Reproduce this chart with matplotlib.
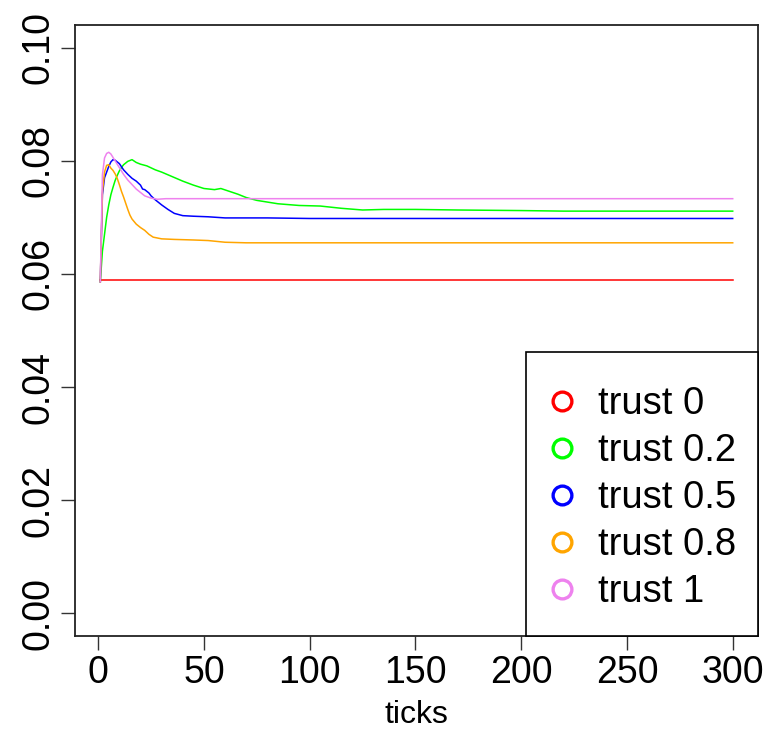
import matplotlib
matplotlib.use("Agg")
import matplotlib.pyplot as plt
from matplotlib.patches import Rectangle

plt.rcParams['font.family'] = ['Liberation Sans', 'DejaVu Sans']

# ---- data ----
red_t = [1, 300]
red_v = [0.0589, 0.0589]

green_t = [1, 2, 3, 4, 5, 6, 7, 8, 9, 10, 11, 12, 14, 16, 18, 20, 23, 27, 30, 35, 40, 45,
           50, 55, 58, 62, 66, 70, 75, 85, 95, 105, 115, 125, 135, 150, 170, 200, 220, 300]
green_v = [0.0586, 0.0640, 0.0670, 0.0700, 0.0722, 0.0740, 0.0753, 0.0765, 0.0774, 0.0782,
           0.0788, 0.0793, 0.0799, 0.0802, 0.0797, 0.0794, 0.0791, 0.0784, 0.0780, 0.0772,
           0.0764, 0.0757, 0.0751, 0.0749, 0.0751, 0.0746, 0.0741, 0.0735, 0.0730, 0.0724,
           0.0721, 0.0720, 0.0716, 0.0713, 0.0714, 0.0714, 0.0713, 0.0712, 0.0711, 0.0711]

blue_t = [1, 2, 3, 4, 5, 6, 7, 8, 10, 12, 14, 16, 18, 20, 21, 22, 23, 24, 25, 27, 30, 33,
          36, 40, 45, 52, 60, 70, 80, 100, 300]
blue_v = [0.0586, 0.0740, 0.0770, 0.0780, 0.0790, 0.0798, 0.0802, 0.0801, 0.0795, 0.0784,
          0.0776, 0.0769, 0.0764, 0.0757, 0.0750, 0.0749, 0.0746, 0.0743, 0.0738, 0.0731,
          0.0722, 0.0714, 0.0707, 0.0703, 0.0702, 0.0701, 0.0699, 0.0699, 0.0699, 0.0698,
          0.0698]

orange_t = [1, 2, 3, 4, 5, 6, 7, 8, 9, 10, 11, 12, 13, 14, 15, 16, 18, 20, 22, 24, 26, 30,
            36, 45, 52, 60, 70, 300]
orange_v = [0.0586, 0.0745, 0.0780, 0.0792, 0.0793, 0.0787, 0.0783, 0.0777, 0.0769, 0.0758,
            0.0746, 0.0736, 0.0725, 0.0714, 0.0704, 0.0697, 0.0688, 0.0682, 0.0677, 0.0670,
            0.0665, 0.0662, 0.0661, 0.0660, 0.0659, 0.0656, 0.0655, 0.0655]

pink_t = [1, 2, 3, 4, 5, 6, 7, 8, 9, 10, 12, 14, 16, 18, 20, 22, 25, 28, 32, 300]
pink_v = [0.0586, 0.0775, 0.0805, 0.0813, 0.0815, 0.0812, 0.0806, 0.0800, 0.0794, 0.0788,
          0.0776, 0.0766, 0.0758, 0.0750, 0.0744, 0.0738, 0.0734, 0.0732, 0.0733, 0.0733]

series_labels = ["trust 0", "trust 0.2", "trust 0.5", "trust 0.8", "trust 1"]
series_colors = ["#FF0000", "#00FF00", "#0000FF", "#FFA500", "#EE82EE"]
x_ticks = [0, 50, 100, 150, 200, 250, 300]
y_ticks = [0.00, 0.02, 0.04, 0.06, 0.08, 0.10]
y_tick_labels = ["0.00", "0.02", "0.04", "0.06", "0.08", "0.10"]
x_label = "ticks"

# ---- figure ----
W, H = 769, 733
fig = plt.figure(figsize=(W / 100, H / 100), dpi=100)
ax_l, ax_r, ax_t, ax_b = 75, 758, 25, 636
ax = fig.add_axes([ax_l / W, 1 - ax_b / H, (ax_r - ax_l) / W, (ax_b - ax_t) / H])

all_series = [(red_t, red_v), (green_t, green_v), (blue_t, blue_v),
              (orange_t, orange_v), (pink_t, pink_v)]
for (t, v), c in zip(all_series, series_colors):
    ax.plot(t, v, color=c, lw=1.1)

ax.set_xlim(1 - 0.04 * 299, 300 + 0.04 * 299)
ax.set_ylim(-0.004, 0.104)
ax.set_xticks(x_ticks)
ax.set_xticklabels([str(x) for x in x_ticks], fontsize=27)
ax.set_yticks(y_ticks)
ax.set_yticklabels(y_tick_labels, fontsize=27, rotation=90, va='center')
ax.tick_params(axis='both', direction='out', length=10, width=1, color='#333333')
ax.tick_params(axis='x', pad=4)
ax.tick_params(axis='y', pad=3)
for sp in ax.spines.values():
    sp.set_linewidth(1.3)
    sp.set_color('#222222')
ax.set_xlabel(x_label, fontsize=23, labelpad=6)

# ---- legend (R-style, bottom right) ----
aw = ax_r - ax_l
ah = ax_b - ax_t
def fx(px):
    return (px - ax_l) / aw
def fy(py):
    return (ax_b - py) / ah

box = Rectangle((fx(526), 0), 1 - fx(526), fy(352), transform=ax.transAxes,
                facecolor='white', edgecolor='black', lw=1.2, zorder=5, clip_on=False)
ax.add_patch(box)
baselines = [414, 461, 508, 555, 602]
for lab, c, b in zip(series_labels, series_colors, baselines):
    ax.plot([fx(562)], [fy(b - 13)], marker='o', ms=13.5, mfc='none', mec=c, mew=2.4,
            transform=ax.transAxes, zorder=6, clip_on=False, ls='none')
    ax.text(fx(598), fy(b), lab, transform=ax.transAxes, fontsize=27.5,
            ha='left', va='baseline', zorder=6)

fig.savefig("out.png", dpi=100)
